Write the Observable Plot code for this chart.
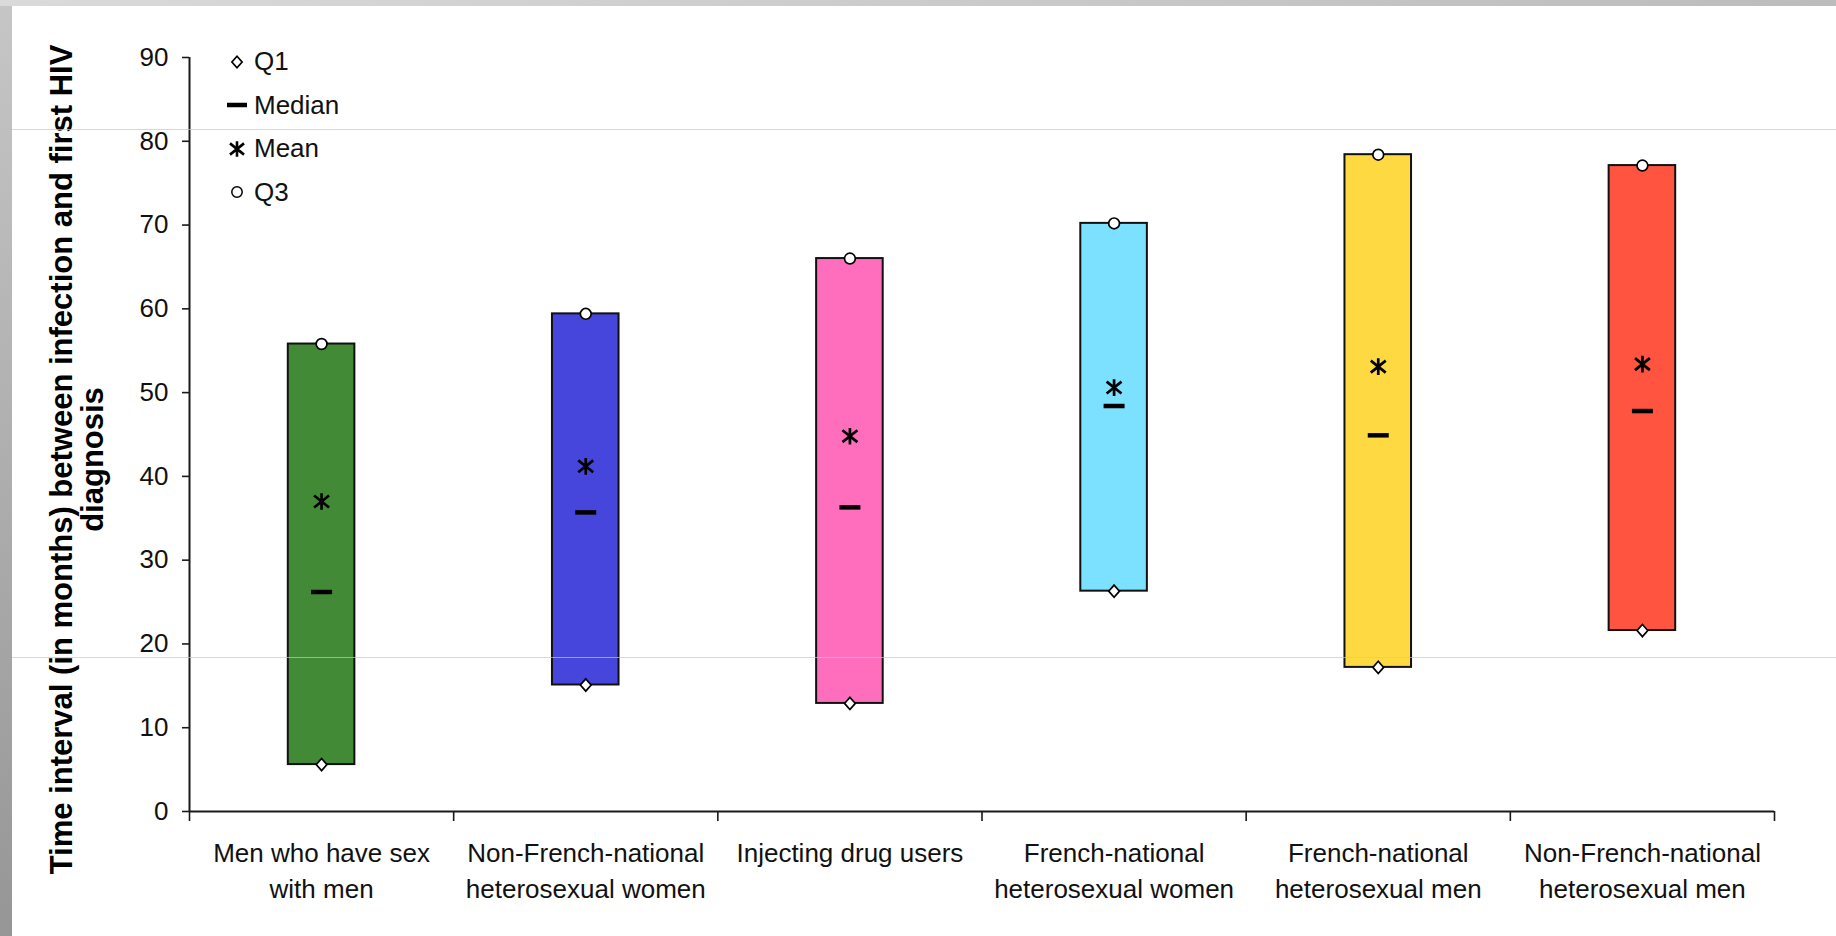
<!DOCTYPE html>
<html>
<head>
<meta charset="utf-8">
<script src="https://cdn.jsdelivr.net/npm/d3@7"></script>
<script src="https://cdn.jsdelivr.net/npm/@observablehq/plot@0.6"></script>
<style>
  html, body { margin: 0; padding: 0; background: #fff; }
  #wrap { position: relative; width: 1836px; height: 936px; overflow: hidden;
          font-family: "Liberation Sans", Arial, Helvetica, sans-serif; color: #111; }
  #wrap svg { display: block; }
  .edge-left { position: absolute; left: 0; top: 0; width: 12px; height: 936px;
               background: linear-gradient(#c6c6c6, #969696); }
  .edge-top { position: absolute; left: 0; top: 0; width: 1836px; height: 6px;
              background: linear-gradient(90deg, #dadada, #bcbcbc); }
  .guide { position: absolute; left: 12px; right: 0; height: 1px;
           background: rgba(200, 200, 200, 0.7); pointer-events: none; }
  #legend { position: absolute; left: 225px; top: 40px; }
  #legend .row { display: flex; align-items: center; height: 43.5px; font-size: 26px; }
  #legend svg { width: 24px; height: 24px; margin-right: 5px; overflow: visible; }
</style>
</head>
<body>
<div id="wrap"></div>
<script>
// Time from HIV infection to first diagnosis, by transmission group (months)
const categories = [
  "Men who have sex\nwith men",
  "Non-French-national\nheterosexual women",
  "Injecting drug users",
  "French-national\nheterosexual women",
  "French-national\nheterosexual men",
  "Non-French-national\nheterosexual men"
];
const q1Values     = [5.6, 15.1, 12.9, 26.3, 17.2, 21.6];
const medianValues = [26.2, 35.7, 36.3, 48.4, 44.9, 47.8];
const meanValues   = [37.0, 41.2, 44.8, 50.6, 53.1, 53.4];
const q3Values     = [55.8, 59.4, 66.0, 70.2, 78.4, 77.1];
const barColors    = ["#438a37", "#4646dc", "#ff6dbd", "#7ce0ff", "#ffd942", "#ff5540"];
const yTicks       = [0, 10, 20, 30, 40, 50, 60, 70, 80, 90];
const legendLabels = ["Q1", "Median", "Mean", "Q3"];
const yTitle = "Time interval (in months) between infection and first HIV\ndiagnosis";

const FONT = '"Liberation Sans", Arial, Helvetica, sans-serif';
const W = 1836, H = 936;
const mL = 189, mR = 62, mT = 57, mB = 125;
const bandPx = (W - mL - mR) / categories.length;
const barInset = bandPx * 0.374;

const rows = categories.map((category, i) => ({
  i, category,
  q1: q1Values[i], median: medianValues[i], mean: meanValues[i], q3: q3Values[i],
  color: barColors[i]
}));
const center = d => d.i + 0.5;

// Marker shapes
const dash = {
  draw(context, size) {
    const r = Math.sqrt(size / Math.PI);
    context.moveTo(-r, 0); context.lineTo(r, 0);
  }
};
const asterisk = {
  draw(context, size) {
    const r = Math.sqrt(size / Math.PI);
    context.moveTo(0, -r); context.lineTo(0, r);
    context.moveTo(-0.9 * r, -0.72 * r); context.lineTo(0.9 * r, 0.72 * r);
    context.moveTo(0.9 * r, -0.72 * r); context.lineTo(-0.9 * r, 0.72 * r);
  }
};
const diamond = {
  draw(context, size) {
    const r = Math.sqrt(size / Math.PI);
    context.moveTo(0, -r); context.lineTo(0.88 * r, 0);
    context.lineTo(0, r); context.lineTo(-0.88 * r, 0); context.closePath();
  }
};

const chart = Plot.plot({
  width: W, height: H,
  marginLeft: mL, marginRight: mR, marginTop: mT, marginBottom: mB,
  style: { fontFamily: FONT, fontSize: "26px", color: "#111", background: "transparent", overflow: "visible" },
  x: { domain: [0, categories.length], label: null },
  y: { domain: [0, 90], label: null },
  color: { type: "identity" },
  marks: [
    Plot.rectY(rows, {
      x1: "i", x2: d => d.i + 1, y1: "q1", y2: "q3",
      fill: "color", stroke: "#111", strokeWidth: 2,
      insetLeft: barInset, insetRight: barInset
    }),
    Plot.dot(rows, { x: center, y: "median", symbol: dash, r: 10.5, fill: "none", stroke: "#000", strokeWidth: 4.5 }),
    Plot.dot(rows, { x: center, y: "mean", symbol: asterisk, r: 8.3, fill: "none", stroke: "#000", strokeWidth: 2.7 }),
    Plot.dot(rows, { x: center, y: "q1", symbol: diamond, r: 6.1, fill: "#fff", stroke: "#000", strokeWidth: 1.7 }),
    Plot.dot(rows, { x: center, y: "q3", r: 5.4, fill: "#fff", stroke: "#000", strokeWidth: 1.7 }),
    Plot.ruleX([0], { y1: 0, y2: 90, stroke: "#1a1a1a", strokeWidth: 2 }),
    Plot.ruleY([0], { stroke: "#1a1a1a", strokeWidth: 2.2 }),
    Plot.axisY(yTicks, { tickSize: 7, tickPadding: 14, fontSize: 26, stroke: "#1a1a1a", strokeWidth: 1.6, label: null }),
    Plot.axisX(d3.range(categories.length + 1), {
      tickSize: 10, tickFormat: () => "", stroke: "#1a1a1a", strokeWidth: 1.6, label: null
    }),
    Plot.axisX(rows.map(center), {
      tickSize: 0, tickPadding: 25, fontSize: 26, lineHeight: 1.385,
      tickFormat: v => categories[Math.floor(v)], label: null
    }),
    Plot.text([yTitle], {
      text: d => d, frameAnchor: "left", rotate: -90, dx: -112, dy: 25,
      fontSize: 31, fontWeight: "bold", lineHeight: 0.99, textAnchor: "middle", fill: "#000"
    })
  ]
});

const wrap = document.getElementById("wrap");
wrap.appendChild(chart);

// Legend for the four summary markers
const legend = document.createElement("div");
legend.id = "legend";
const legendShapes = [
  { symbol: diamond, r: 5.8, fill: "#fff", stroke: "#000", sw: 1.7 },
  { symbol: dash, r: 10, fill: "none", stroke: "#000", sw: 4.5 },
  { symbol: asterisk, r: 7.8, fill: "none", stroke: "#000", sw: 2.6 },
  { symbol: d3.symbolCircle, r: 5.2, fill: "#fff", stroke: "#000", sw: 1.5 }
];
legendLabels.forEach((label, k) => {
  const s = legendShapes[k];
  const row = document.createElement("div");
  row.className = "row";
  const path = d3.symbol(s.symbol, Math.PI * s.r * s.r)();
  row.innerHTML =
    `<svg viewBox="-12 -12 24 24"><path d="${path}" fill="${s.fill}" stroke="${s.stroke}" stroke-width="${s.sw}"/></svg>` +
    `<span>${label}</span>`;
  legend.appendChild(row);
});
wrap.appendChild(legend);

// Slide frame edges and faint guide lines
for (const cls of ["edge-left", "edge-top"]) {
  const el = document.createElement("div");
  el.className = cls;
  wrap.appendChild(el);
}
for (const top of [129, 657]) {
  const el = document.createElement("div");
  el.className = "guide";
  el.style.top = top + "px";
  wrap.appendChild(el);
}
</script>
</body>
</html>
